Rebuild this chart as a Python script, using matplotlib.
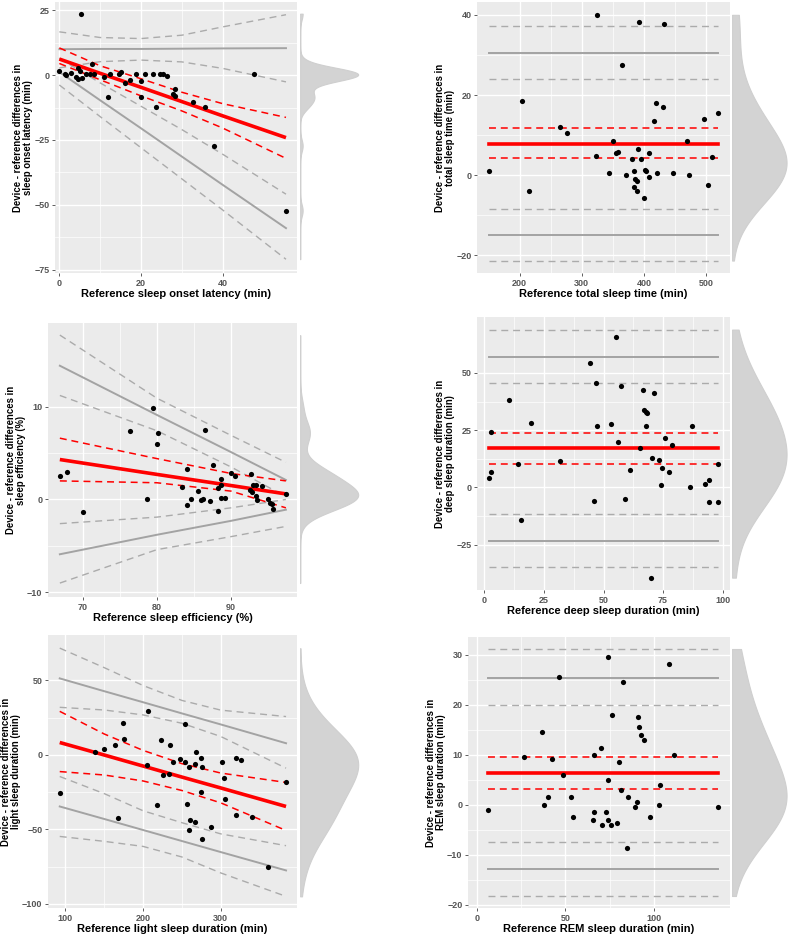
import numpy as np
import matplotlib
matplotlib.use("Agg")
import matplotlib.pyplot as plt

plt.rcParams['font.family'] = ['Liberation Sans', 'DejaVu Sans']
plt.rcParams['lines.scale_dashes'] = False

# ---------------- data ----------------
# 1) sleep onset latency
sol_x = [0.0, 1.4, 1.55, 2.9, 4.0, 4.5, 4.6, 5.1, 5.4, 5.5, 6.5, 7.4, 8.0, 8.6, 11.0, 11.8,
         12.4, 14.5, 15.1, 16.0, 17.3, 18.8, 19.9, 20.0, 20.9, 22.9, 23.7, 24.7, 25.5, 26.3,
         27.8, 28.4, 28.4, 32.7, 35.7, 37.8, 47.6, 55.5]
sol_y = [1.7, 0.6, -0.1, 1.0, -0.6, -1.5, 2.6, 1.7, 23.7, -1.2, 0.4, 0.4, 4.2, 0.4, -0.6, -8.6,
         0.6, 0.6, 1.2, -3.2, -1.7, 0.4, -2.2, -8.6, 0.4, 0.4, -12.2, 0.4, 0.4, -0.3,
         -7.4, -5.5, -8.1, -10.3, -12.2, -27.2, 0.6, -52.2]
sol_knots = [0, 10, 20, 30, 40, 55.5]
sol_bias = [6.2, 0.7, -4.7, -10.2, -15.7, -24.1]
sol_bias_hi = [10.5, 3.6, -1.4, -6.6, -11.0, -16.3]
sol_bias_lo = [4.5, -1.8, -8.0, -13.8, -20.4, -32.1]
sol_loa_hi = [10.0, 10.1, 10.1, 10.2, 10.3, 10.4]
sol_loa_hi_hi = [16.7, 14.5, 14.1, 15.4, 18.6, 23.3]
sol_loa_hi_lo = [2.8, 5.2, 5.8, 5.1, 2.6, -2.6]
sol_loa_lo = [1.2, -9.7, -20.5, -31.4, -42.3, -59.0]
sol_loa_lo_hi = [6.5, -3.0, -12.0, -21.0, -30.5, -45.9]
sol_loa_lo_lo = [-3.8, -16.0, -28.0, -40.0, -52.0, -71.0]

# 2) total sleep time
tst_x = [150.3, 204.3, 214.4, 265.2, 275.9, 324.1, 322.5, 344.4, 350.8, 354.5, 358.8, 365.2,
         371.1, 381.3, 383.4, 384.0, 385.0, 388.2, 389.3, 389.8, 392.0, 394.7, 399.5, 402.1,
         403.2, 407.5, 407.5, 416.6, 419.8, 420.3, 429.9, 432.1, 447.1, 468.4, 472.2, 496.3,
         502.7, 509.6, 518.7]
tst_y = [1.0, 18.6, -4.0, 12.0, 10.6, 40.0, 4.9, 0.5, 8.6, 5.5, 5.9, 27.4,
         0.0, 4.0, 1.0, -3.0, -1.0, -1.4, -4.0, 6.5, 38.1, 4.0, -5.6, 1.4,
         1.0, 5.5, -0.5, 13.6, 18.1, 0.5, 17.1, 37.6, 0.5, 8.6, 0.0, 14.0,
         -2.5, 4.5, 15.6]
tst_bias, tst_bias_ci = 7.9, [11.7, 4.2]
tst_loa = [30.4, -14.9]
tst_loa_ci = [37.2, 24.0, -8.5, -21.3]

# 3) sleep efficiency
se_x = [66.9, 67.8, 70.0, 76.3, 78.7, 79.5, 80.0, 80.2, 83.4, 84.0, 84.1, 84.6, 85.6, 86.0,
        86.2, 86.5, 87.2, 87.5, 88.3, 88.3, 88.6, 88.7, 88.7, 89.2, 90.0, 90.5, 92.7, 92.6,
        92.8, 92.9, 93.3, 93.4, 93.5, 94.2, 95.0, 95.3, 95.5, 95.6, 97.4]
se_y = [2.5, 3.0, -1.3, 7.4, 0.1, 9.8, 6.0, 7.2, 1.3, -0.6, 3.3, 0.0, 0.9, -0.1,
        0.1, 7.5, -0.2, 3.7, -1.2, 1.2, 2.2, 1.6, 0.2, 0.2, 2.9, 2.5, 2.7, 1.0,
        0.8, 1.6, 1.6, 0.4, -0.1, 1.5, 0.1, -0.4, -0.5, -1.0, 0.6]
se_knots = [66.9, 80, 90, 97.4]
se_bias = [4.3, 2.7, 1.5, 0.6]
se_bias_hi = [6.6, 4.4, 2.8, 2.0]
se_bias_lo = [2.0, 1.8, 0.9, -0.9]
se_loa_hi = [14.4, 9.1, 5.1, 2.1]
se_loa_hi_hi = [17.7, 10.9, 6.9, 4.0]
se_loa_hi_lo = [11.2, 7.4, 3.5, 0.3]
se_loa_lo = [-5.9, -3.8, -2.3, -1.1]
se_loa_lo_hi = [-2.6, -1.9, -0.9, 0.0]
se_loa_lo_lo = [-9.0, -5.4, -4.0, -2.9]

# 4) deep sleep duration
deep_x = [1.8, 2.8, 2.8, 10.2, 14.2, 15.4, 19.7, 31.8, 44.3, 46.2, 46.8, 47.1, 53.2, 55.2,
          56.0, 57.3, 59.2, 61.0, 65.2, 66.5, 67.2, 67.7, 68.2, 67.9, 70.4, 70.1, 71.4, 73.2,
          74.4, 74.3, 75.8, 77.6, 78.6, 86.3, 87.2, 92.6, 94.3, 94.3, 98.0, 98.0]
deep_y = [4.1, 6.7, 24.0, 38.1, 10.2, -14.2, 28.2, 11.6, 54.1, -6.0, 45.8, 27.0, 27.6, 65.7,
          19.8, 44.2, -5.1, 7.4, 17.2, 42.7, 33.7, 33.0, 32.3, 26.7, 12.8, -39.4, 41.0, 12.1,
          8.6, 1.2, 21.7, 6.7, 18.6, 0.3, 26.7, 1.7, 3.2, -6.5, -6.5, 10.2]
deep_bias, deep_bias_ci = 17.0, [23.7, 10.3]
deep_loa = [57.0, -23.5]
deep_loa_ci = [68.9, 45.6, -11.6, -34.9]

# 5) light sleep duration
light_x = [92.7, 137.8, 149.5, 164.1, 168.0, 174.0, 174.8, 205.2, 206.9, 217.8, 222.5, 225.9,
           233.7, 234.6, 238.5, 247.9, 254.4, 254.4, 257.0, 259.6, 259.6, 260.9, 266.5, 267.3,
           267.7, 274.6, 275.1, 275.9, 275.9, 287.1, 300.9, 304.3, 305.6, 319.0, 319.8, 325.8,
           340.4, 361.1, 383.9]
light_y = [-25.4, 1.8, 4.2, 6.5, -42.2, 21.7, 10.9, -6.9, 29.2, -33.3, 10.0, -13.8,
           -12.9, 6.5, -4.9, -3.1, -4.5, 20.8, -33.0, -8.0, -50.2, -43.5, -45.1, -5.8,
           2.2, -2.2, -24.8, -8.3, -56.5, -48.4, -4.9, -15.6, -29.9, -2.2, -40.0, -3.6,
           -41.7, -75.0, -18.3]
light_knots = [92.7, 150, 200, 250, 300, 383.9]
light_bias = [8.3, -0.1, -7.5, -14.9, -22.2, -34.6]
light_bias_hi = [29.2, 14.0, 3.0, -5.9, -12.2, -18.5]
light_bias_lo = [-11.2, -13.5, -17.5, -23.9, -32.2, -50.7]
light_loa_hi = [51.3, 42.7, 35.3, 27.8, 20.4, 7.8]
light_loa_hi_hi = [71.6, 58.5, 46.5, 36.5, 30.0, 25.7]
light_loa_hi_lo = [31.9, 30.1, 26.8, 21.2, 12.3, -8.9]
light_loa_lo = [-34.6, -43.0, -50.4, -57.8, -65.2, -77.5]
light_loa_lo_hi = [-14.5, -26.0, -37.5, -45.5, -53.0, -60.9]
light_loa_lo_lo = [-54.7, -58.0, -61.4, -68.5, -79.2, -94.9]

# 6) REM sleep duration
rem_x = [6.4, 26.8, 37.0, 37.7, 40.0, 42.5, 46.4, 48.5, 53.2, 54.2, 66.0, 65.7, 66.2, 70.0,
         70.4, 73.0, 73.8, 73.9, 74.3, 75.5, 76.4, 79.1, 80.4, 81.5, 82.6, 84.5, 85.5, 89.2,
         90.6, 90.9, 91.5, 92.8, 94.5, 97.9, 102.6, 103.6, 108.3, 111.3, 136.4]
rem_y = [-1.1, 9.5, 14.6, 0.0, 1.5, 9.1, 25.5, 6.0, 1.5, -2.5, 10.0, -3.0, -1.5, 11.4,
         -4.0, -1.5, 29.6, 4.9, -3.1, -4.0, 17.9, -3.6, 8.5, 2.9, 24.5, -8.6, 1.5, -0.5,
         0.5, 17.5, 15.5, 14.0, 13.0, -2.5, 0.0, 4.0, 28.1, 10.0, -0.5]
rem_bias, rem_bias_ci = 6.3, [9.6, 3.1]
rem_loa = [25.4, -12.9]
rem_loa_ci = [31.1, 20.0, -7.4, -18.3]

# ---------------- styling ----------------
W, H = 792, 934
fig = plt.figure(figsize=(W / 100, H / 100), dpi=100)
fig.patch.set_facecolor('white')

RED = '#FF0000'
GREY_S = '#A3A3A3'
GREY_D = '#ABABAB'
DENS = '#D3D3D3'


def px_axes(l, t, r, b):
    return fig.add_axes([l / W, 1 - b / H, (r - l) / W, (b - t) / H])


def bw_nrd0(v):
    v = np.asarray(v)
    sd = v.std(ddof=1)
    iqr = np.subtract(*np.percentile(v, [75, 25]))
    lo = min(sd, iqr / 1.34) if iqr > 0 else sd
    return 0.9 * lo * len(v) ** -0.2


def style_main(ax, xlim, ylim, xt, yt, xlabel, ylabel):
    ax.set_facecolor('#EBEBEB')
    ax.set_xlim(xlim)
    ax.set_ylim(ylim)
    ax.set_xticks(xt)
    ax.set_yticks(yt)
    xt = np.array(xt, float)
    yt = np.array(yt, float)
    ax.set_xticks((xt[:-1] + xt[1:]) / 2, minor=True)
    ax.set_yticks((yt[:-1] + yt[1:]) / 2, minor=True)
    ax.grid(which='major', color='white', lw=1.0)
    ax.grid(which='minor', color='white', lw=0.5)
    ax.set_axisbelow(True)
    for s in ax.spines.values():
        s.set_visible(False)
    ax.tick_params(which='major', length=2.5, width=0.6, color='#444444',
                   labelsize=6.5, labelcolor='#555555', pad=1.5)
    ax.tick_params(which='minor', length=0)
    for lab in ax.get_xticklabels() + ax.get_yticklabels():
        lab.set_fontweight('bold')
    ax.set_xlabel(xlabel, fontsize=8, fontweight='bold', labelpad=1)
    ax.set_ylabel(ylabel, fontsize=6.9, fontweight='bold', labelpad=1, linespacing=1.0)


def density(axm, y, lines_y, ylim, adjust):
    y = np.asarray(y)
    bw = bw_nrd0(y) * adjust
    lo = min(np.min(y), np.min(lines_y))
    hi = max(np.max(y), np.max(lines_y))
    grid = np.linspace(lo, hi, 400)
    d = np.exp(-0.5 * ((grid[:, None] - y[None, :]) / bw) ** 2).sum(1)
    d /= len(y) * bw * np.sqrt(2 * np.pi)
    axm.fill_betweenx(grid, 0, d, color=DENS, lw=0.8, edgecolor='#CFCFCF')
    axm.set_xlim(-d.max() * 0.02, d.max() * 1.1)
    axm.set_ylim(ylim)
    axm.axis('off')


def draw_panel(box, mbox, x, y, knots, curves, hlines, xlim, ylim, xt, yt, xlabel, ylabel,
               adjust=1.6):
    ax = px_axes(*box)
    style_main(ax, xlim, ylim, xt, yt, xlabel, ylabel)
    dash = (0, (5, 3.5))
    if knots is None:
        xr = [min(x), max(x)]
        bias, bias_ci, loa, loa_ci = hlines
        for v in loa_ci:
            ax.plot(xr, [v, v], color=GREY_D, lw=1.0, ls=dash)
        for v in loa:
            ax.plot(xr, [v, v], color=GREY_S, lw=1.4)
        for v in bias_ci:
            ax.plot(xr, [v, v], color=RED, lw=1.1, ls=dash)
        ax.plot(xr, [bias, bias], color=RED, lw=2.6)
        all_lines = list(loa_ci) + list(loa)
    else:
        bias, bias_hi, bias_lo, loa_hi, hh, hl, loa_lo, lh, ll = curves
        for c in (hh, hl, lh, ll):
            ax.plot(knots, c, color=GREY_D, lw=1.0, ls=dash)
        for c in (loa_hi, loa_lo):
            ax.plot(knots, c, color=GREY_S, lw=1.4)
        for c in (bias_hi, bias_lo):
            ax.plot(knots, c, color=RED, lw=1.1, ls=dash)
        ax.plot(knots, bias, color=RED, lw=2.6, solid_capstyle='butt')
        all_lines = list(hh) + list(ll)
    ax.scatter(x, y, s=14, color='black', zorder=5, lw=0)
    axm = px_axes(*mbox)
    density(axm, y, all_lines, ylim, adjust)
    return ax


draw_panel((55, 2, 297, 273), (299, 2, 364, 273), sol_x, sol_y, sol_knots,
           (sol_bias, sol_bias_hi, sol_bias_lo, sol_loa_hi, sol_loa_hi_hi, sol_loa_hi_lo,
            sol_loa_lo, sol_loa_lo_hi, sol_loa_lo_lo), None,
           (-1.06, 58.2), (-76.3, 28.2), [0, 20, 40], [-75, -50, -25, 0, 25],
           'Reference sleep onset latency (min)',
           'Device - reference differences in\nsleep onset latency (min)', adjust=1.3)

draw_panel((477, 2, 730, 273), (731, 2, 792, 273), tst_x, tst_y, None, None,
           (tst_bias, tst_bias_ci, tst_loa, tst_loa_ci),
           (131.6, 538), (-24.4, 43.2), [200, 300, 400, 500], [-20, 0, 20, 40],
           'Reference total sleep time (min)',
           'Device - reference differences in\ntotal sleep time (min)', adjust=2.0)

draw_panel((48, 323, 297, 597), (299, 323, 364, 597), se_x, se_y, se_knots,
           (se_bias, se_bias_hi, se_bias_lo, se_loa_hi, se_loa_hi_hi, se_loa_hi_lo,
            se_loa_lo, se_loa_lo_hi, se_loa_lo_lo), None,
           (65.3, 98.9), (-10.5, 19.0), [70, 80, 90], [-10, 0, 10],
           'Reference sleep efficiency (%)',
           'Device - reference differences in\nsleep efficiency (%)', adjust=1.4)

draw_panel((477, 317, 730, 590), (731, 317, 792, 590), deep_x, deep_y, None, None,
           (deep_bias, deep_bias_ci, deep_loa, deep_loa_ci),
           (-3.1, 103.1), (-44.8, 74.4), [0, 25, 50, 75, 100], [-25, 0, 25, 50],
           'Reference deep sleep duration (min)',
           'Device - reference differences in\ndeep sleep duration (min)', adjust=1.8)

draw_panel((48, 635, 297, 908), (299, 635, 364, 908), light_x, light_y, light_knots,
           (light_bias, light_bias_hi, light_bias_lo, light_loa_hi, light_loa_hi_hi,
            light_loa_hi_lo, light_loa_lo, light_loa_lo_hi, light_loa_lo_lo), None,
           (77.6, 398), (-102.7, 80.4), [100, 200, 300], [-100, -50, 0, 50],
           'Reference light sleep duration (min)',
           'Device - reference differences in\nlight sleep duration (min)', adjust=1.7)

draw_panel((468, 637, 730, 908), (731, 637, 792, 908), rem_x, rem_y, None, None,
           (rem_bias, rem_bias_ci, rem_loa, rem_loa_ci),
           (-5.1, 143), (-20.7, 33.5), [0, 50, 100], [-20, -10, 0, 10, 20, 30],
           'Reference REM sleep duration (min)',
           'Device - reference differences in\nREM sleep duration (min)', adjust=1.7)

fig.savefig('out.png', dpi=100)
